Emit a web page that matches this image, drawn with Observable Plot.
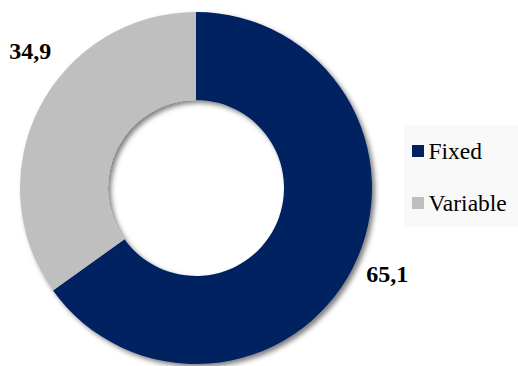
<!DOCTYPE html>
<html>
<head>
<meta charset="utf-8">
<script src="https://cdn.jsdelivr.net/npm/d3@7"></script>
<script src="https://cdn.jsdelivr.net/npm/@observablehq/plot@0.6"></script>
<style>
  html, body { margin: 0; padding: 0; background: #fff; }
  #chart { width: 518px; height: 366px; }
</style>
</head>
<body>
<div id="chart"></div>
<script>
// Data
const categories = ["Fixed", "Variable"];
const values = [65.1, 34.9];
const labels = ["65,1", "34,9"];
const colors = ["#002060", "#BFBFBF"];

const data = categories.map((c, i) => ({category: c, value: values[i], label: labels[i]}));

const W = 518, H = 366;
const color = Plot.scale({color: {type: "ordinal", domain: categories, range: colors}});
const serif = "'Liberation Serif', 'Times New Roman', Times, serif";

function donut(index, scales, vals, dims) {
  const g = d3.create("svg:g");
  const cx = 196, cy = 188, R = 176, r0 = 88;
  const defs = g.append("defs");
  const f = defs.append("filter").attr("id", "shadow")
    .attr("x", "-20%").attr("y", "-20%").attr("width", "140%").attr("height", "140%");
  f.append("feDropShadow").attr("dx", 3).attr("dy", 3).attr("stdDeviation", 2.6)
    .attr("flood-color", "#000").attr("flood-opacity", 0.5);

  const pie = d3.pie().value(d => d.value).sort(null).startAngle(0).endAngle(2 * Math.PI);
  const arcs = pie(data);
  const arc = d3.arc().innerRadius(r0).outerRadius(R);
  g.append("g").attr("transform", `translate(${cx},${cy})`).attr("filter", "url(#shadow)")
    .selectAll("path").data(arcs).join("path")
    .attr("d", arc)
    .attr("fill", d => color.apply(d.data.category));

  // data labels, placed outside the ring along a layout angle (baseline anchor)
  const labelLayout = {Fixed: {angle: 116.1, radius: 213}, Variable: {angle: 307.9, radius: 210}};
  const pos = d => {
    const L = labelLayout[d.data.category], a = L.angle * Math.PI / 180;
    return [cx + L.radius * Math.sin(a), cy - L.radius * Math.cos(a)];
  };
  g.append("g").selectAll("text").data(arcs).join("text")
    .attr("x", d => pos(d)[0])
    .attr("y", d => pos(d)[1])
    .attr("text-anchor", "middle")
    .attr("font-family", serif)
    .attr("font-weight", "bold")
    .attr("font-size", 24)
    .attr("fill", "#000")
    .text(d => d.data.label);

  // legend
  const lg = g.append("g");
  lg.append("rect").attr("x", 404).attr("y", 125).attr("width", 114).attr("height", 102).attr("fill", "#f8f8f8");
  const items = lg.selectAll("g.item").data(color.domain).join("g")
    .attr("transform", (d, i) => `translate(412, ${145 + i * 52})`);
  items.append("rect").attr("width", 12).attr("height", 12).attr("fill", d => color.apply(d));
  items.append("text").attr("x", 16.5).attr("y", 14)
    .attr("text-anchor", "start")
    .attr("font-family", serif)
    .attr("font-size", 23.5)
    .attr("fill", "#000")
    .text(d => d);
  return g.node();
}

const chart = Plot.plot({
  width: W,
  height: H,
  margin: 0,
  style: {background: "#fff", overflow: "visible"},
  marks: [donut]
});
document.getElementById("chart").append(chart);
</script>
</body>
</html>
